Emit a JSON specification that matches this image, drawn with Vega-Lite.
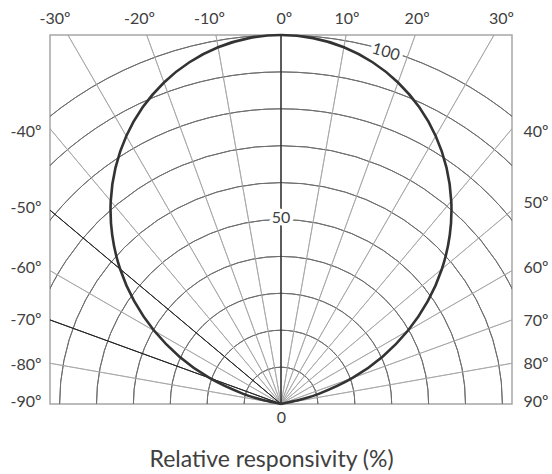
{
  "$schema": "https://vega.github.io/schema/vega-lite/v6.json",
  "width": 462,
  "height": 369,
  "autosize": "none",
  "padding": {"left": 50, "top": 35, "right": 40, "bottom": 70},
  "background": "white",
  "datasets": {
    "arcs": [{"r": 10}, {"r": 20}, {"r": 30}, {"r": 40}, {"r": 50}, {"r": 60}, {"r": 70}, {"r": 80}, {"r": 90}, {"r": 100}],
    "radials": [{"angle": -80}, {"angle": -60}, {"angle": -40}, {"angle": -30}, {"angle": -20}, {"angle": -10}, {"angle": 10}, {"angle": 20}, {"angle": 30}, {"angle": 40}, {"angle": 50}, {"angle": 60}, {"angle": 70}, {"angle": 80}],
    "marked": [{"angle": -50}, {"angle": -70}],
    "zero": [{"angle": 0}],
    "labels": [{"label": "50", "angle": 0, "r": 50.4}, {"label": "100", "angle": 16.6, "r": 99.5}],
    "curve": [
      {"x": 0, "y": 0},
      {"x": -4.35, "y": 0.93},
      {"x": -6.34, "y": 1.46},
      {"x": -10.23, "y": 2.74},
      {"x": -19.39, "y": 7.06},
      {"x": -27.51, "y": 12.83},
      {"x": -34.37, "y": 19.84},
      {"x": -39.78, "y": 27.85},
      {"x": -43.60, "y": 36.58},
      {"x": -45.73, "y": 45.73},
      {"x": -46.14, "y": 54.99},
      {"x": -44.85, "y": 64.05},
      {"x": -41.92, "y": 72.61},
      {"x": -37.49, "y": 80.39},
      {"x": -31.71, "y": 87.14},
      {"x": -24.82, "y": 92.62},
      {"x": -17.05, "y": 96.68},
      {"x": -8.68, "y": 99.16},
      {"x": 0, "y": 100},
      {"x": 8.68, "y": 99.16},
      {"x": 17.05, "y": 96.68},
      {"x": 24.82, "y": 92.62},
      {"x": 31.71, "y": 87.14},
      {"x": 37.49, "y": 80.39},
      {"x": 41.92, "y": 72.61},
      {"x": 44.85, "y": 64.05},
      {"x": 46.14, "y": 54.99},
      {"x": 45.73, "y": 45.73},
      {"x": 43.60, "y": 36.58},
      {"x": 39.78, "y": 27.85},
      {"x": 34.37, "y": 19.84},
      {"x": 27.51, "y": 12.83},
      {"x": 19.39, "y": 7.06},
      {"x": 10.23, "y": 2.74},
      {"x": 6.34, "y": 1.46},
      {"x": 4.35, "y": 0.93},
      {"x": 0, "y": 0}
    ]
  },
  "layer": [
    {
      "data": {"name": "arcs"},
      "mark": {"type": "arc", "filled": false, "stroke": "#6e6e6e", "strokeWidth": 1, "theta": -1.5707963, "theta2": 1.5707963, "clip": true},
      "encoding": {
        "x": {"datum": 0, "type": "quantitative", "scale": {"domain": [-62.6, 62.6], "nice": false, "zero": false},
          "axis": {"orient": "top", "values": [-61.4, -38.5, -19.5, 0.8, 17.75, 36.75, 59.6],
            "labelExpr": "datum.value < -50 ? '-30º' : datum.value < -30 ? '-20º' : datum.value < -10 ? '-10º' : datum.value < 10 ? '0º' : datum.value < 25 ? '10º' : datum.value < 45 ? '20º' : '30º'",
            "ticks": false, "tickSize": 0, "domain": false, "grid": false, "labelPadding": 9, "labelFontSize": 16, "labelColor": "#404040", "labelFlush": false, "labelOverlap": false, "labelBound": false, "title": null}},
        "y": {"datum": 0, "type": "quantitative", "scale": {"domain": [0, 100], "nice": false, "zero": false},
          "axis": {"orient": "left", "values": [73.8, 53.3, 37.0, 22.9, 10.7, 0.6],
            "labelExpr": "datum.value > 65 ? '-40º' : datum.value > 45 ? '-50º' : datum.value > 30 ? '-60º' : datum.value > 16 ? '-70º' : datum.value > 5 ? '-80º' : '-90º'",
            "ticks": false, "tickSize": 0, "domain": false, "grid": false, "labelPadding": 9, "labelFontSize": 16, "labelColor": "#404040", "labelFlush": false, "labelOverlap": false, "labelBound": false, "title": null}},
        "radius": {"field": "r", "type": "quantitative", "scale": {"type": "linear", "domain": [0, 100], "range": [0, {"expr": "height"}], "nice": false, "zero": true}},
        "radius2": {"field": "r"}
      }
    },
    {
      "data": {"name": "radials"},
      "mark": {"type": "arc", "filled": false, "stroke": "#a3a3a3", "strokeWidth": 0.8, "clip": true},
      "encoding": {
        "x": {"datum": 0, "type": "quantitative", "scale": {"domain": [-62.6, 62.6], "nice": false, "zero": false}, "axis": null},
        "y": {"datum": 0, "type": "quantitative", "scale": {"domain": [0, 100], "nice": false, "zero": false}, "axis": null},
        "theta": {"field": "angle", "type": "quantitative", "stack": null, "scale": {"type": "linear", "domain": [-90, 90], "range": [-1.5707963, 1.5707963], "nice": false, "zero": false}},
        "theta2": {"field": "angle"},
        "radius": {"datum": 130, "type": "quantitative", "scale": {"type": "linear", "domain": [0, 100], "range": [0, {"expr": "height"}], "nice": false, "zero": true}},
        "radius2": {"datum": 0}
      }
    },
    {
      "data": {"name": "marked"},
      "mark": {"type": "arc", "filled": false, "stroke": "#262626", "strokeWidth": 1, "clip": true},
      "encoding": {
        "x": {"datum": 0, "type": "quantitative", "scale": {"domain": [-62.6, 62.6], "nice": false, "zero": false}, "axis": null},
        "y": {"datum": 0, "type": "quantitative", "scale": {"domain": [0, 100], "nice": false, "zero": false}, "axis": null},
        "theta": {"field": "angle", "type": "quantitative", "stack": null, "scale": {"type": "linear", "domain": [-90, 90], "range": [-1.5707963, 1.5707963], "nice": false, "zero": false}},
        "theta2": {"field": "angle"},
        "radius": {"datum": 130, "type": "quantitative", "scale": {"type": "linear", "domain": [0, 100], "range": [0, {"expr": "height"}], "nice": false, "zero": true}},
        "radius2": {"datum": 0}
      }
    },
    {
      "data": {"name": "zero"},
      "mark": {"type": "arc", "filled": false, "stroke": "#333333", "strokeWidth": 1.6, "clip": true},
      "encoding": {
        "x": {"datum": 0, "type": "quantitative", "scale": {"domain": [-62.6, 62.6], "nice": false, "zero": false}, "axis": null},
        "y": {"datum": 0, "type": "quantitative", "scale": {"domain": [0, 100], "nice": false, "zero": false}, "axis": null},
        "theta": {"field": "angle", "type": "quantitative", "stack": null, "scale": {"type": "linear", "domain": [-90, 90], "range": [-1.5707963, 1.5707963], "nice": false, "zero": false}},
        "theta2": {"field": "angle"},
        "radius": {"datum": 130, "type": "quantitative", "scale": {"type": "linear", "domain": [0, 100], "range": [0, {"expr": "height"}], "nice": false, "zero": true}},
        "radius2": {"datum": 0}
      }
    },
    {
      "data": {"name": "labels"},
      "mark": {"type": "text", "font": "Lato", "fontSize": 16, "align": "center", "baseline": "middle", "fill": "white", "stroke": "white", "strokeWidth": 7, "strokeJoin": "round"},
      "encoding": {
        "x": {"datum": 0, "type": "quantitative", "scale": {"domain": [-62.6, 62.6], "nice": false, "zero": false}, "axis": null},
        "y": {"datum": 0, "type": "quantitative", "scale": {"domain": [0, 100], "nice": false, "zero": false}, "axis": null},
        "theta": {"field": "angle", "type": "quantitative", "stack": null, "scale": {"type": "linear", "domain": [-90, 90], "range": [-1.5707963, 1.5707963], "nice": false, "zero": false}},
        "radius": {"field": "r", "type": "quantitative", "scale": {"type": "linear", "domain": [0, 100], "range": [0, {"expr": "height"}], "nice": false, "zero": true}},
        "text": {"field": "label"},
        "angle": {"field": "angle", "type": "quantitative", "scale": null}
      }
    },
    {
      "data": {"name": "labels"},
      "mark": {"type": "text", "font": "Lato", "fontSize": 16, "align": "center", "baseline": "middle", "fill": "#404040"},
      "encoding": {
        "x": {"datum": 0, "type": "quantitative", "scale": {"domain": [-62.6, 62.6], "nice": false, "zero": false}, "axis": null},
        "y": {"datum": 0, "type": "quantitative", "scale": {"domain": [0, 100], "nice": false, "zero": false}, "axis": null},
        "theta": {"field": "angle", "type": "quantitative", "stack": null, "scale": {"type": "linear", "domain": [-90, 90], "range": [-1.5707963, 1.5707963], "nice": false, "zero": false}},
        "radius": {"field": "r", "type": "quantitative", "scale": {"type": "linear", "domain": [0, 100], "range": [0, {"expr": "height"}], "nice": false, "zero": true}},
        "text": {"field": "label"},
        "angle": {"field": "angle", "type": "quantitative", "scale": null}
      }
    },
    {
      "data": {"name": "curve"},
      "mark": {"type": "line", "stroke": "#333333", "strokeWidth": 2.6, "interpolate": "catmull-rom"},
      "encoding": {
        "x": {"field": "x", "type": "quantitative", "scale": {"domain": [-62.6, 62.6], "nice": false, "zero": false},
          "axis": {"orient": "bottom", "values": [0], "labelExpr": "'0'", "ticks": false, "tickSize": 0, "domain": false, "grid": false,
            "labelPadding": 5, "labelFontSize": 16, "labelColor": "#404040", "labelFlush": false, "labelOverlap": false,
            "title": "Relative responsivity  (%)", "titleFontSize": 23, "titleFontWeight": "normal", "titleColor": "#404040", "titlePadding": 23, "titleX": 221}},
        "y": {"field": "y", "type": "quantitative", "scale": {"domain": [0, 100], "nice": false, "zero": false},
          "axis": {"orient": "right", "values": [73.8, 54.6, 37.0, 22.6, 11.0, 0.6],
            "labelExpr": "datum.value > 65 ? '40º' : datum.value > 45 ? '50º' : datum.value > 30 ? '60º' : datum.value > 16 ? '70º' : datum.value > 5 ? '80º' : '90º'",
            "ticks": false, "tickSize": 0, "domain": false, "grid": false, "labelPadding": 11, "labelFontSize": 16, "labelColor": "#404040", "labelFlush": false, "labelOverlap": false, "labelBound": false, "title": null}},
        "order": {"value": null}
      }
    }
  ],
  "resolve": {"axis": {"x": "independent", "y": "independent"}},
  "config": {
    "font": "Lato",
    "view": {"stroke": "#a6a6a6", "strokeWidth": 1.5},
    "axis": {"labelFont": "Lato", "titleFont": "Lato"}
  }
}
